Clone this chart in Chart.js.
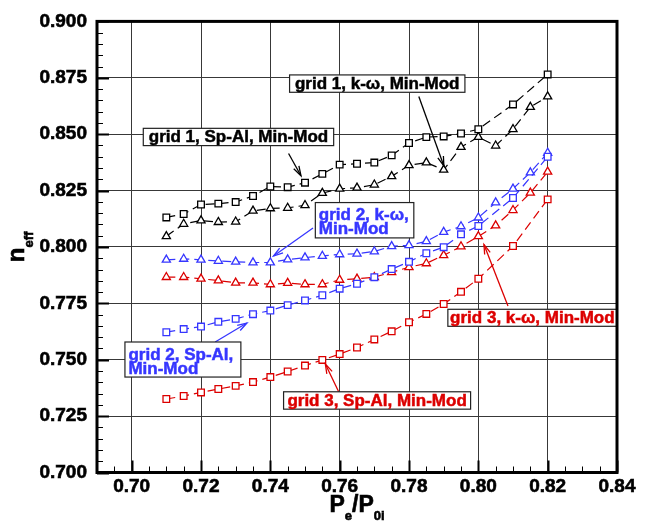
<!DOCTYPE html>
<html><head><meta charset="utf-8">
<script src="https://cdn.jsdelivr.net/npm/chart.js@4/dist/chart.umd.min.js"></script>
<style>html,body{margin:0;padding:0;background:#fff}</style>
</head><body>
<canvas id="c" width="647" height="522" style="display:block"></canvas>
<script>
// ---------- data ----------
const xKw = [0.710,0.715,0.720,0.725,0.730,0.735,0.740,0.745,0.750,0.755,0.760,0.765,0.770,0.775,0.780,0.785,0.790,0.795,0.800,0.805,0.810,0.815,0.820];
const xSa = [0.710,0.715,0.720,0.725,0.730,0.735,0.740,0.745,0.750,0.755,0.760,0.765,0.770,0.775,0.780,0.785,0.790,0.795,0.800,0.810,0.820];

const grid1SpAl = [0.8131,0.8146,0.8188,0.8192,0.8199,0.8226,0.8268,0.8265,0.8285,0.8324,0.8365,0.8369,0.8374,0.8406,0.8461,0.8487,0.8490,0.8503,0.8522,0.8632,0.8765];
const grid1Kw   = [0.8047,0.8102,0.8117,0.8110,0.8112,0.8160,0.8171,0.8173,0.8185,0.8239,0.8258,0.8262,0.8276,0.8313,0.8362,0.8374,0.8342,0.8443,0.8487,0.8449,0.8522,0.8620,0.8667];
const grid2SpAl = [0.7622,0.7636,0.7647,0.7668,0.7681,0.7702,0.7718,0.7742,0.7763,0.7786,0.7815,0.7837,0.7866,0.7902,0.7934,0.7972,0.7999,0.8056,0.8093,0.8217,0.8400];
const grid2Kw   = [0.7943,0.7947,0.7943,0.7938,0.7934,0.7931,0.7931,0.7944,0.7953,0.7960,0.7967,0.7970,0.7980,0.8003,0.8007,0.8025,0.8066,0.8091,0.8130,0.8197,0.8258,0.8330,0.8417];
const grid3SpAl = [0.7326,0.7339,0.7355,0.7370,0.7384,0.7401,0.7423,0.7448,0.7474,0.7499,0.7525,0.7554,0.7590,0.7626,0.7666,0.7703,0.7747,0.7801,0.7859,0.8004,0.8211];
const grid3Kw   = [0.7866,0.7866,0.7859,0.7851,0.7841,0.7841,0.7834,0.7840,0.7834,0.7834,0.7854,0.7859,0.7866,0.7888,0.7910,0.7927,0.7963,0.8002,0.8047,0.8095,0.8163,0.8240,0.8333];

const xTicks = [0.70,0.72,0.74,0.76,0.78,0.80,0.82,0.84];
const xTickLabels = ['0.70','0.72','0.74','0.76','0.78','0.80','0.82','0.84'];
const yTicks = [0.700,0.725,0.750,0.775,0.800,0.825,0.850,0.875,0.900];
const yTickLabels = ['0.700','0.725','0.750','0.775','0.800','0.825','0.850','0.875','0.900'];

// ---------- styles ----------
const BLACK = '#000000', BLUE = '#3636ff', RED = '#dc0000';
const FONT = '"Liberation Sans", Arial, Helvetica, sans-serif';

function series(xs, ys, color, shape) {
  return {
    data: xs.map((x, i) => ({x: x, y: ys[i]})),
    showLine: true,
    borderColor: color,
    borderWidth: 1.2,
    borderDash: [9, 5],
    pointStyle: shape,
    pointRadius: 4.7,
    pointHoverRadius: 4.7,
    pointBorderColor: color,
    pointBackgroundColor: '#ffffff',
    pointBorderWidth: 1.3,
    tension: 0
  };
}

// annotation layout (data coordinates)
const notes = [
  {box:[0.74555,0.87627,0.79613,0.86857], lines:['grid 1, k-\u03c9, Min-Mod'], color:BLACK, arrow:[0.78283,0.86670,0.79006,0.83592]},
  {box:[0.70335,0.85259,0.75827,0.84493], lines:['grid 1, Sp-Al, Min-Mod'], color:BLACK, arrow:[0.74526,0.84145,0.74884,0.83157]},
  {box:[0.75298,0.81968,0.78139,0.80401], lines:['grid 2, k-\u03c9,','Min-Mod'], color:BLUE, arrow:[0.75231,0.80836,0.74092,0.79599]},
  {box:[0.69806,0.75786,0.73150,0.74232], lines:['grid 2, Sp-Al,','Min-Mod'], color:BLUE, arrow:[0.72408,0.75786,0.73324,0.76627]},
  {box:[0.74382,0.73579,0.79777,0.72808], lines:['grid 3, Sp-Al, Min-Mod'], color:RED, arrow:[0.75971,0.73579,0.75587,0.74811]},
  {box:[0.79121,0.77236,0.83997,0.76482], lines:['grid 3, k-\u03c9, Min-Mod'], color:RED, arrow:[0.80855,0.77379,0.80162,0.80109]}
];

function arrow(ctx, x1, y1, x2, y2, color) {
  ctx.save();
  ctx.strokeStyle = color; ctx.lineWidth = 1.3;
  ctx.beginPath(); ctx.moveTo(x1, y1); ctx.lineTo(x2, y2); ctx.stroke();
  const a = Math.atan2(y2 - y1, x2 - x1), L = 10, h = 0.3;
  ctx.beginPath();
  ctx.moveTo(x2 - L * Math.cos(a - h), y2 - L * Math.sin(a - h));
  ctx.lineTo(x2, y2);
  ctx.lineTo(x2 - L * Math.cos(a + h), y2 - L * Math.sin(a + h));
  ctx.stroke();
  ctx.restore();
}

function boldText(ctx, s, x, y, w) {
  ctx.lineWidth = w; ctx.strokeStyle = ctx.fillStyle;
  ctx.strokeText(s, x, y); ctx.fillText(s, x, y);
}

const decor = {
  id: 'decor',
  afterDatasetsDraw(chart) {
    const ctx = chart.ctx, xs = chart.scales.x, ys = chart.scales.y;
    notes.forEach(n => {
      const bx1 = xs.getPixelForValue(n.box[0]), by1 = ys.getPixelForValue(n.box[1]);
      const bx2 = xs.getPixelForValue(n.box[2]), by2 = ys.getPixelForValue(n.box[3]);
      arrow(ctx, xs.getPixelForValue(n.arrow[0]), ys.getPixelForValue(n.arrow[1]),
                 xs.getPixelForValue(n.arrow[2]), ys.getPixelForValue(n.arrow[3]), n.color);
      ctx.save();
      ctx.fillStyle = '#ffffff';
      ctx.fillRect(bx1, by1, bx2 - bx1, by2 - by1);
      ctx.strokeStyle = '#222'; ctx.lineWidth = 1.2;
      ctx.strokeRect(bx1, by1, bx2 - bx1, by2 - by1);
      ctx.fillStyle = n.color;
      ctx.font = 'bold 17px ' + FONT;
      const yc = (by1 + by2) / 2;
      if (n.lines.length === 1) {
        ctx.textAlign = 'center'; ctx.textBaseline = 'middle';
        boldText(ctx, n.lines[0], (bx1 + bx2) / 2, yc + 0.5, 0.5);
      } else {
        ctx.textAlign = 'left'; ctx.textBaseline = 'alphabetic';
        boldText(ctx, n.lines[0], bx1 + 3.5, yc + 0, 0.5);
        boldText(ctx, n.lines[1], bx1 + 3.5, yc + 14, 0.5);
      }
      ctx.restore();
    });
  },
  afterDraw(chart) {
    const ctx = chart.ctx, a = chart.chartArea, xs = chart.scales.x, ys = chart.scales.y;
    ctx.save();
    // inward ticks on left and bottom
    ctx.strokeStyle = '#000';
    for (let k = 0; k <= 40; k++) {
      const v = 0.700 + k * 0.005;
      const py = Math.round(ys.getPixelForValue(v)) + 0.5;
      const major = k % 5 === 0;
      ctx.lineWidth = major ? 2 : 1;
      ctx.beginPath(); ctx.moveTo(a.left, py); ctx.lineTo(a.left + (major ? 12 : 6), py); ctx.stroke();
    }
    for (let k = 0; k <= 30; k++) {
      const v = 0.690 + k * 0.005;
      const px = Math.round(xs.getPixelForValue(v)) + 0.5;
      const major = (k - 2) % 4 === 0;
      ctx.lineWidth = major ? 2 : 1;
      ctx.beginPath(); ctx.moveTo(px, a.bottom); ctx.lineTo(px, a.bottom - (major ? 12 : 6)); ctx.stroke();
    }
    // frame
    ctx.lineWidth = 3;
    ctx.strokeRect(a.left, a.top, a.right - a.left, a.bottom - a.top);
    // x title  P_e/P_0i
    const big = 'bold 23px ' + FONT, small = 'bold 13px ' + FONT;
    const parts = [['P', big, 0], ['e', small, 8], ['/P', big, 0], ['0i', small, 8]];
    let tw = 0;
    parts.forEach(p => { ctx.font = p[1]; p.push(ctx.measureText(p[0]).width); tw += p[3]; });
    let cx = (a.left + a.right) / 2 - tw / 2;
    ctx.fillStyle = '#000'; ctx.textAlign = 'left'; ctx.textBaseline = 'alphabetic';
    parts.forEach(p => { ctx.font = p[1]; boldText(ctx, p[0], cx, 512 + p[2], 0.6); cx += p[3]; });
    // y title  n_eff
    ctx.translate(23.5, (a.top + a.bottom) / 2);
    ctx.rotate(-Math.PI / 2);
    const yparts = [['n', 'bold 24px ' + FONT, 0], ['eff', small, 9]];
    let tw2 = 0;
    yparts.forEach(p => { ctx.font = p[1]; p.push(ctx.measureText(p[0]).width); tw2 += p[3]; });
    let cy = -tw2 / 2;
    yparts.forEach(p => { ctx.font = p[1]; boldText(ctx, p[0], cy, p[2], 0.6); cy += p[3]; });
    ctx.restore();
  }
};

new Chart(document.getElementById('c'), {
  type: 'scatter',
  data: {
    datasets: [
      series(xSa, grid1SpAl, BLACK, 'rect'),
      series(xKw, grid1Kw, BLACK, 'triangle'),
      series(xSa, grid2SpAl, BLUE, 'rect'),
      series(xKw, grid2Kw, BLUE, 'triangle'),
      series(xSa, grid3SpAl, RED, 'rect'),
      series(xKw, grid3Kw, RED, 'triangle')
    ]
  },
  options: {
    responsive: false,
    animation: false,
    devicePixelRatio: 1,
    layout: {padding: {top: 13, right: 30, bottom: 0, left: 0}},
    plugins: {legend: {display: false}, tooltip: {enabled: false}},
    scales: {
      x: {
        type: 'linear', min: 0.69, max: 0.84,
        afterBuildTicks: s => { s.ticks = xTicks.map(v => ({value: v})); },
        afterFit: s => { s.height = 49.5; },
        ticks: {
          callback: (v, i) => xTickLabels[i],
          font: {family: FONT, size: 19, weight: 'bold'}, color: '#000',
          textStrokeColor: '#000', textStrokeWidth: 0.6,
          padding: 3, maxRotation: 0, autoSkip: false
        },
        grid: {color: '#383838', lineWidth: 1, drawTicks: false},
        border: {display: false}
      },
      y: {
        type: 'linear', min: 0.70, max: 0.90,
        afterBuildTicks: s => { s.ticks = yTicks.map(v => ({value: v})); },
        afterFit: s => { s.width = 97; },
        ticks: {
          callback: (v, i) => yTickLabels[i],
          font: {family: FONT, size: 19, weight: 'bold'}, color: '#000',
          textStrokeColor: '#000', textStrokeWidth: 0.6,
          padding: 10, autoSkip: false
        },
        grid: {color: '#383838', lineWidth: 1, drawTicks: false},
        border: {display: false}
      }
    }
  },
  plugins: [decor]
});
</script>
</body></html>
